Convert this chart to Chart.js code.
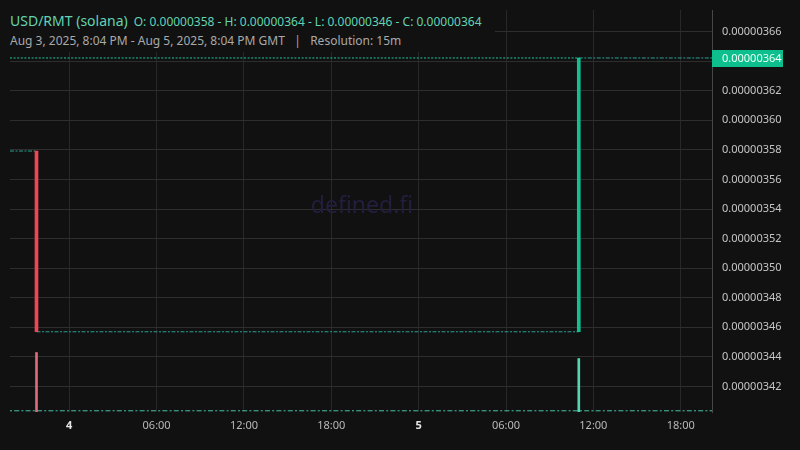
<!DOCTYPE html>
<html>
<head>
<meta charset="utf-8">
<script src="https://cdn.jsdelivr.net/npm/chart.js@4.4.1/dist/chart.umd.min.js"></script>
<style>
  html, body { margin: 0; padding: 0; background: #111111; }
  #wrap { position: relative; width: 800px; height: 450px; }
  #legend { position: absolute; left: 0; top: 0; width: 495px; height: 52px; background: #111111;
            font-family: "Noto Sans", sans-serif; white-space: nowrap; }
  #l1 { position: absolute; left: 10px; top: 9px; color: #63d3b3; }
  #l1 .pair { font-size: 14px; }
  #l1 .ohlc { font-size: 12px; margin-left: 6px; }
  #l2 { position: absolute; left: 10px; top: 32px; color: #a9a9a9; font-size: 12px; }
</style>
</head>
<body>
<div id="wrap">
  <canvas id="myChart" width="800" height="450"></canvas>
  <div id="legend">
    <div id="l1"><span class="pair">USD/RMT (solana)</span><span class="ohlc">O: 0.00000358 - H: 0.00000364 - L: 0.00000346 - C: 0.00000364</span></div>
    <div id="l2">Aug 3, 2025, 8:04 PM - Aug 5, 2025, 8:04 PM GMT &nbsp;&nbsp;|&nbsp;&nbsp; Resolution: 15m</div>
  </div>
</div>
<script>
// hours relative to Aug 4, 2025 00:00 GMT
const rangeStart = -4.07;
const rangeEnd = 44.15;

const candleTimes = [-2.25, 35];
const candleOpen = [0.0000035792, 0.0000034570];
const candleClose = [0.0000034570, 0.0000036421];
const volumes = [14.8, 13.3];        // relative units

// flat 15m candles (open == close) drawn as runs
const flatStart = [rangeStart, -2.25, 35];
const flatEnd = [-2.25, 35, rangeEnd];
const flatPrice = [0.0000035792, 0.0000034570, 0.0000036421];

const lastPrice = 0.0000036421;
const baseVolume = 0.3;

const priceTicks = [0.00000342, 0.00000344, 0.00000346, 0.00000348, 0.00000350, 0.00000352,
  0.00000354, 0.00000356, 0.00000358, 0.00000360, 0.00000362, 0.00000364, 0.00000366];
const timeTicks = [0, 6, 12, 18, 24, 30, 36, 42];
const timeLabels = ['4', '06:00', '12:00', '18:00', '5', '06:00', '12:00', '18:00'];

const red = '#ef4655';
const green = '#13bf92';

const datasets = [];

datasets.push({
  type: 'bar',
  yAxisID: 'y',
  order: 0,
  data: candleTimes.map((t, i) => ({ x: t, y: [candleOpen[i], candleClose[i]] })),
  backgroundColor: candleTimes.map((t, i) => candleClose[i] >= candleOpen[i] ? green : red),
  barThickness: 3,
  grouped: false
});

datasets.push({
  type: 'bar',
  yAxisID: 'vol',
  order: 1,
  data: candleTimes.map((t, i) => ({ x: t, y: volumes[i] })),
  backgroundColor: candleTimes.map((t, i) => candleClose[i] >= candleOpen[i] ? '#55d6b3' : '#e06a7b'),
  barThickness: 2,
  grouped: false
});

flatPrice.forEach((p, i) => {
  datasets.push({
    type: 'line',
    yAxisID: 'y',
    order: 3,
    data: [{ x: flatStart[i], y: p }, { x: flatEnd[i], y: p }],
    borderColor: '#2a9f90',
    borderWidth: 1,
    borderDash: [4, 1.5, 2, 1.5],
    pointRadius: 0
  });
});

datasets.push({
  type: 'line',
  yAxisID: 'y',
  order: 2,
  data: [{ x: rangeStart, y: lastPrice }, { x: candleTimes[1], y: lastPrice }],
  borderColor: '#1fc79a',
  borderWidth: 1,
  borderDash: [2, 1.6],
  pointRadius: 0
});

datasets.push({
  type: 'line',
  yAxisID: 'vol',
  order: 2,
  data: [{ x: rangeStart, y: baseVolume }, { x: rangeEnd, y: baseVolume }],
  borderColor: '#45c2a5',
  borderWidth: 1,
  borderDash: [2, 2.2, 5, 2.2],
  pointRadius: 0
});

const watermark = {
  id: 'watermark',
  beforeDatasetsDraw(chart) {
    const c = chart.ctx;
    c.save();
    c.font = '23px "Noto Sans"';
    c.fillStyle = '#231e3e';
    c.textAlign = 'center';
    c.textBaseline = 'middle';
    c.fillText('defined.fi', 362, 206);
    c.restore();
  }
};

const priceTag = {
  id: 'priceTag',
  afterDraw(chart) {
    const c = chart.ctx;
    const y = chart.scales.y.getPixelForValue(lastPrice);
    const x = chart.chartArea.right;
    c.save();
    c.fillStyle = '#0cbf8c';
    c.fillRect(x, Math.round(y) - 8, 71, 17);
    c.font = '11px "Noto Sans"';
    c.fillStyle = '#effff9';
    c.textBaseline = 'middle';
    c.fillText(lastPrice.toFixed(8), x + 10, y + 0.5);
    c.restore();
  }
};

const ctx = document.getElementById('myChart').getContext('2d');
new Chart(ctx, {
  type: 'bar',
  data: { datasets: datasets },
  options: {
    responsive: false,
    animation: false,
    layout: { padding: { left: 10, top: 10, right: 0, bottom: 0 } },
    plugins: { legend: { display: false }, tooltip: { enabled: false } },
    scales: {
      x: {
        type: 'linear',
        min: rangeStart,
        max: rangeEnd,
        offset: false,
        afterBuildTicks: s => { s.ticks = timeTicks.map(v => ({ value: v })); },
        afterFit: s => { s.height = 38; s.paddingLeft = 0; s.paddingRight = 0; },
        ticks: {
          autoSkip: false,
          maxRotation: 0,
          padding: 7,
          callback: v => timeLabels[timeTicks.indexOf(v)],
          color: c => (c.tick && c.tick.value % 24 === 0) ? '#e6e6e6' : '#b9b9b9',
          font: c => ({ family: 'Noto Sans', size: 11, weight: (c.tick && c.tick.value % 24 === 0) ? 'bold' : 'normal' })
        },
        grid: { color: '#282828', drawTicks: false, offset: false },
        border: { display: false }
      },
      y: {
        position: 'right',
        min: 0.00000340276,
        max: 0.00000367454,
        afterBuildTicks: s => { s.ticks = priceTicks.map(v => ({ value: v })); },
        afterFit: s => { s.width = 88; s.paddingTop = 0; s.paddingBottom = 0; },
        ticks: {
          padding: 10,
          color: '#c6c6c6',
          font: { family: 'Noto Sans', size: 11 },
          callback: v => v.toFixed(8)
        },
        grid: { color: '#2e2e2e', drawTicks: false },
        border: { color: '#474747' }
      },
      vol: { display: false, min: 0, max: 100 }
    }
  },
  plugins: [watermark, priceTag]
});
</script>
</body>
</html>
